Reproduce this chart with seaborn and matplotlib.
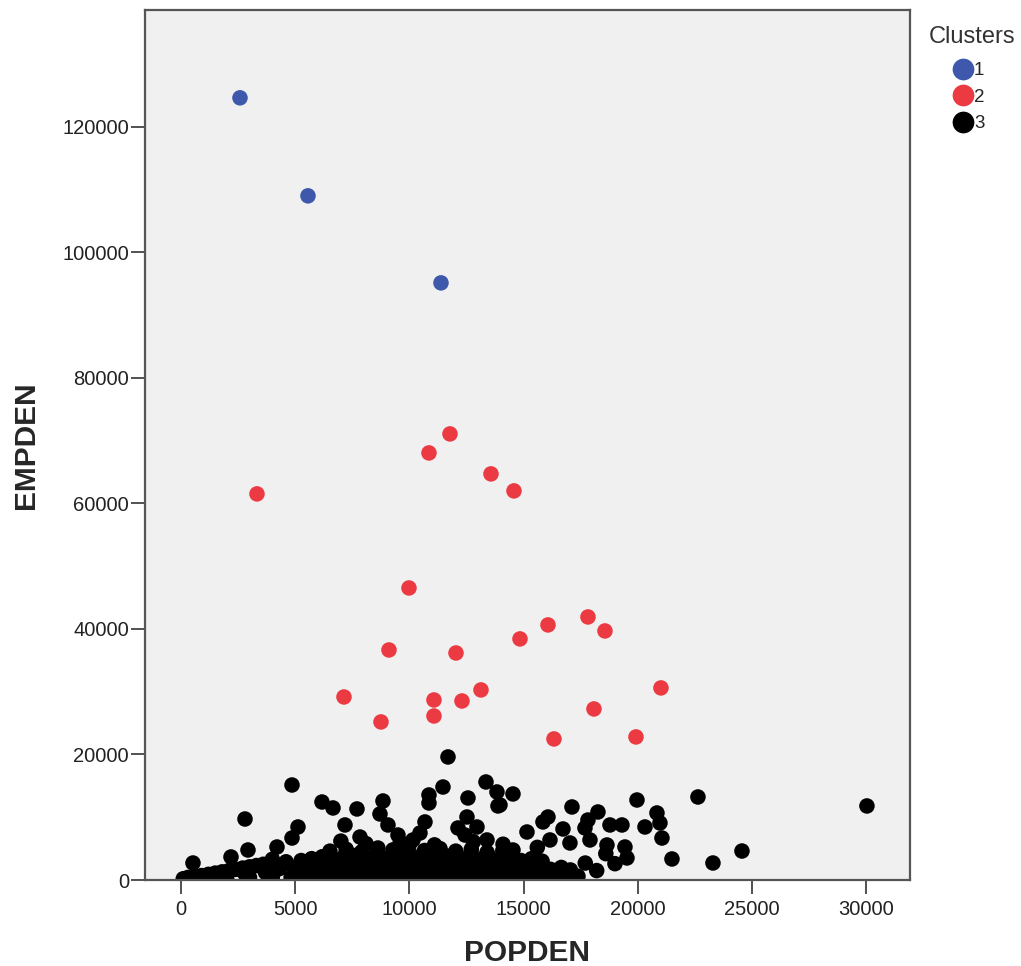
import matplotlib
matplotlib.use("Agg")
import matplotlib.pyplot as plt
import seaborn as sns
import pandas as pd

# Cluster 1 (blue)
c1_pop = [2583, 5560, 11383]
c1_emp = [124650, 109030, 95160]

# Cluster 2 (red)
c2_pop = [3327, 10857, 11777, 13572, 14579, 9982, 9106, 12040, 14842, 16068, 17819,
          18563, 7136, 8756, 11076, 11076, 12302, 13134, 16330, 18081, 19920, 21014]
c2_emp = [61530, 68060, 71090, 64720, 62010, 46540, 36660, 36180, 38420, 40650, 41920,
          39690, 29170, 25190, 28690, 26140, 28530, 30290, 22480, 27260, 22800, 30610]

# Cluster 3 (black) - scattered points above the dense band
c3_out_pop = [525, 2189, 2933, 2802, 4860, 4203, 4860, 5122, 6173, 6655, 7180, 7705, 7837,
              8844, 8712, 9062, 9500, 10157, 10463, 10682, 10857, 10857, 11470, 11690,
              12565, 12521, 12959, 12127, 12434, 13353, 13834, 13878, 13397, 13966, 14535,
              15148, 15848, 16067, 16155, 16724, 17030, 17118, 17687, 17818, 17906, 18256,
              18650, 18782, 19307, 19438, 19526, 19964, 20314, 20839, 20970, 21058, 21496,
              22634, 23291, 24561, 30033, 14535]
c3_out_emp = [2710, 3670, 4780, 9720, 15140, 5260, 6690, 8450, 12430, 11480, 8770, 11320, 6850,
              12590, 10520, 8770, 7170, 6380, 7490, 9250, 13550, 12270, 14820, 19610,
              13070, 10040, 8450, 8290, 7170, 15620, 14030, 11800, 6380, 11960, 13710,
              7650, 9250, 10040, 6380, 8130, 5900, 11640, 8290, 9560, 6380, 10840,
              5580, 8770, 8770, 5260, 3510, 12750, 8450, 10680, 9090, 6690, 3350,
              13230, 2710, 4620, 11800, 4780]

# Cluster 3 - low wedge near the origin
c3_wedge_pop = [100, 300, 600, 900, 1200, 1500, 1800, 2100, 2400, 2700, 3000, 3300, 3600,
                3900, 1000, 2000, 3000, 4000, 2800, 3700, 4300, 4600, 4000]
c3_wedge_emp = [200, 400, 500, 700, 900, 1100, 1300, 1500, 1700, 1900, 2100, 2300, 2500,
                2700, 200, 300, 400, 500, 1000, 1200, 1800, 2900, 3300]

# Cluster 3 - dense band rows
c3_row1_pop = [4820, 5230, 5710, 6140, 6590, 7080, 7490, 7960, 8380, 8870, 9310, 9740, 10220,
               10640, 11090, 11560, 12010, 12430, 12920, 13340, 13810, 14260, 14690, 15170,
               15590, 16060, 16480, 16970, 17380]
c3_row1_emp = [400, 700, 300, 600, 500, 800, 400, 600, 300, 700, 500, 400, 800,
               300, 600, 500, 700, 400, 600, 300, 500, 800, 400, 600,
               300, 700, 500, 400, 600]
c3_row2_pop = [4930, 5380, 5840, 6270, 6730, 7190, 7620, 8080, 8530, 8990, 9420, 9880, 10330,
               10770, 11240, 11680, 12140, 12590, 13030, 13480, 13940, 14380, 14830, 15290,
               15740, 16180, 16650, 17050]
c3_row2_emp = [1900, 2200, 1700, 2300, 2000, 1800, 2400, 2100, 1700, 2200, 2500, 1900, 2000,
               2300, 1800, 2100, 2400, 1900, 2200, 1700, 2000, 2300, 1800, 2100,
               1900, 1700, 2000, 1600]
c3_row3_pop = [5260, 5720, 6180, 6640, 7100, 7560, 8010, 8470, 8930, 9390, 9850, 10310, 10760,
               11220, 11680, 12140, 12600, 13060, 13520, 13980, 14430, 14890, 15350, 15810]
c3_row3_emp = [3100, 3400, 3700, 3300, 3600, 3900, 3500, 3800, 3400, 3700, 4000, 3600, 3900,
               3500, 3800, 3400, 3700, 3300, 3600, 3200, 3500, 3100, 3400, 3000]
c3_row4_pop = [6520, 7230, 7910, 8620, 9280, 9970, 10660, 11340, 12030, 12710, 13400, 14090,
               17700, 18200, 18600, 19000]
c3_row4_emp = [4600, 4900, 4500, 5100, 4800, 5300, 4700, 5000, 4600, 4900, 4400, 4700,
               2700, 1500, 4200, 2600]
c3_row5_pop = [7000, 8100, 9600, 11100, 12800, 14100, 15600]
c3_row5_emp = [6200, 5800, 6000, 5600, 6100, 5700, 5200]

c3_pop = (c3_wedge_pop + c3_row1_pop + c3_row2_pop + c3_row3_pop + c3_row4_pop
          + c3_row5_pop + c3_out_pop)
c3_emp = (c3_wedge_emp + c3_row1_emp + c3_row2_emp + c3_row3_emp + c3_row4_emp
          + c3_row5_emp + c3_out_emp)

df = pd.DataFrame({
    "POPDEN": c3_pop + c2_pop + c1_pop,
    "EMPDEN": c3_emp + c2_emp + c1_emp,
    "Clusters": ["3"] * len(c3_pop) + ["2"] * len(c2_pop) + ["1"] * len(c1_pop),
})

sns.set_style("ticks")
plt.rcParams["font.family"] = ["Liberation Sans", "DejaVu Sans"]

palette = {"1": "#3E58AC", "2": "#EC3A43", "3": "#000000"}

fig = plt.figure(figsize=(10.21, 9.66), dpi=100)
ax = fig.add_axes([145 / 1021, 1 - 880 / 966, 765 / 1021, 870 / 966])
ax.set_facecolor("#F0F0F0")

sns.scatterplot(data=df, x="POPDEN", y="EMPDEN", hue="Clusters", palette=palette,
                hue_order=["1", "2", "3"], s=125, linewidth=0, alpha=1, ax=ax)

ax.set_xlim(-1576, 31918)
ax.set_ylim(0, 138645)
ax.set_xticks([0, 5000, 10000, 15000, 20000, 25000, 30000])
ax.set_yticks([0, 20000, 40000, 60000, 80000, 100000, 120000])
ax.tick_params(axis="both", length=10, width=1.2, color="#333333", labelsize=14.5,
               labelcolor="#222222")
ax.tick_params(axis="y", pad=1.5)
ax.tick_params(axis="x", pad=4.5)
for sp in ax.spines.values():
    sp.set_color("#555555")
    sp.set_linewidth(1.6)

ax.set_xlabel("POPDEN", fontsize=21.5, fontweight="bold", labelpad=14)
ax.set_ylabel("EMPDEN", fontsize=21.5, fontweight="bold", labelpad=16)

# legend to the right, outside the plot
handles, labels = ax.get_legend_handles_labels()
ax.legend(handles, labels, loc="upper left",
          bbox_to_anchor=(944 / 1021, 1 - 62 / 966), bbox_transform=fig.transFigure,
          frameon=False, fontsize=13.5, markerscale=1.4,
          handletextpad=-0.4, labelspacing=0.5, borderaxespad=0, borderpad=0)
fig.text(972 / 1021, 1 - 37 / 966, "Clusters", fontsize=17, color="#333333",
         ha="center", va="center")

fig.savefig("out.png", dpi=100)
